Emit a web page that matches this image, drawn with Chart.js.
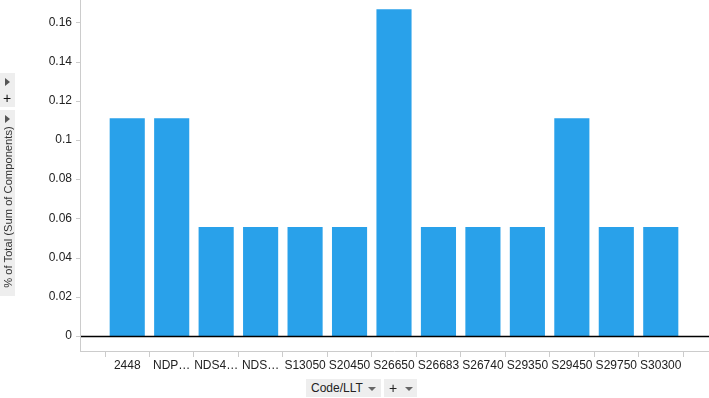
<!DOCTYPE html>
<html>
<head>
<meta charset="utf-8">
<script src="https://cdn.jsdelivr.net/npm/chart.js@4/dist/chart.umd.min.js"></script>
<style>
  html, body { margin: 0; padding: 0; background: #fff; }
  #wrap { position: relative; width: 709px; height: 398px; font-family: "Liberation Sans", Arial, sans-serif; }
  canvas { position: absolute; left: 0; top: 0; }
  .box { position: absolute; background: #eeeeee; color: #222; font-size: 12px; }
  .arrowR { position: absolute; left: 5px; width: 0; height: 0; border-top: 4px solid transparent; border-bottom: 4px solid transparent; border-left: 5px solid #555; }
  .arrowD { display: inline-block; width: 0; height: 0; border-left: 4px solid transparent; border-right: 4px solid transparent; border-top: 4px solid #666; vertical-align: middle; }
  .plus { position: absolute; font-size: 14px; line-height: 14px; color: #111; }
  #ytitle { position: absolute; left: 8px; top: 207px; transform: translate(-50%, -50%) rotate(-90deg); white-space: nowrap; font-size: 11.2px; color: #333; }
</style>
</head>
<body>
<div id="wrap">
  <canvas id="c" width="709" height="398"></canvas>
  <div class="box" style="left:0;top:73px;width:15px;height:34px;">
    <div class="arrowR" style="top:5px;"></div>
    <div class="plus" style="left:3px;top:18px;">+</div>
  </div>
  <div class="box" style="left:0;top:110px;width:15px;height:186px;">
    <div class="arrowR" style="top:5px;"></div>
  </div>
  <div id="ytitle">% of Total (Sum of Components)</div>
  <div class="box" style="left:306px;top:379px;width:75px;height:18px;line-height:18px;">
    <span style="position:absolute;left:5px;top:0;">Code/LLT</span>
    <span style="position:absolute;left:62px;top:0;"><span class="arrowD"></span></span>
  </div>
  <div class="box" style="left:384px;top:379px;width:33px;height:18px;line-height:18px;">
    <span style="position:absolute;left:5px;top:0;font-size:14px;">+</span>
    <span style="position:absolute;left:21px;top:0;"><span class="arrowD"></span></span>
  </div>
</div>
<script>
const categories = ["2448", "NDP…", "NDS4…", "NDS…", "S13050", "S20450", "S26650", "S26683", "S26740", "S29350", "S29450", "S29750", "S30300"];
const percentOfTotal = [0.1111, 0.1111, 0.0556, 0.0556, 0.0556, 0.0556, 0.1667, 0.0556, 0.0556, 0.0556, 0.1111, 0.0556, 0.0556];
const yTickValues = [0, 0.02, 0.04, 0.06, 0.08, 0.1, 0.12, 0.14, 0.16];
const yTickLabels = ["0", "0.02", "0.04", "0.06", "0.08", "0.1", "0.12", "0.14", "0.16"];
const yMin = -0.00765;
const yMax = 0.1714;

const axisPlugin = {
  id: 'axisPlugin',
  afterDraw(chart) {
    const ctx = chart.ctx;
    const y = chart.scales.y;
    const area = chart.chartArea;
    const axisX = 80.5;
    ctx.save();
    ctx.strokeStyle = '#cccccc';
    ctx.lineWidth = 1;
    ctx.beginPath();
    ctx.moveTo(axisX, 0);
    ctx.lineTo(axisX, Math.round(area.bottom) + 0.5);
    ctx.moveTo(axisX - 0.5, Math.round(area.bottom) + 0.5);
    ctx.lineTo(709, Math.round(area.bottom) + 0.5);
    yTickValues.forEach(v => {
      const py = Math.round(y.getPixelForValue(v)) + 0.5;
      ctx.moveTo(76, py);
      ctx.lineTo(axisX, py);
    });
    ctx.stroke();
    const zy = Math.round(y.getPixelForValue(0)) + 0.5;
    ctx.strokeStyle = '#000000';
    ctx.lineWidth = 1.3;
    ctx.beginPath();
    ctx.moveTo(axisX + 0.5, zy);
    ctx.lineTo(709, zy);
    ctx.stroke();
    ctx.restore();
  }
};

new Chart(document.getElementById('c'), {
  type: 'bar',
  data: {
    labels: categories,
    datasets: [{
      data: percentOfTotal,
      backgroundColor: '#29a1ea',
      borderWidth: 0,
      barPercentage: 0.79,
      categoryPercentage: 1.0
    }]
  },
  options: {
    responsive: false,
    animation: false,
    events: [],
    layout: { padding: { left: 0, right: 26, top: 0, bottom: 0 } },
    plugins: { legend: { display: false }, tooltip: { enabled: false } },
    scales: {
      x: {
        offset: true,
        afterFit(scale) { scale.height = 47; },
        grid: { display: true, drawOnChartArea: false, drawTicks: true, tickLength: 6, color: '#cccccc', offset: true },
        border: { display: false },
        ticks: { color: '#222', font: { family: '"Liberation Sans", Arial, sans-serif', size: 12 }, padding: 1, maxRotation: 0, autoSkip: false }
      },
      y: {
        min: yMin,
        max: yMax,
        bounds: 'data',
        grace: 0,
        afterFit(scale) { scale.width = 105; scale.paddingTop = 0; scale.paddingBottom = 0; },
        afterBuildTicks(scale) {
          scale.ticks = yTickValues.map(v => ({ value: v }));
          scale.min = yMin;
          scale.max = yMax;
        },
        grid: { display: false, drawTicks: true, tickLength: 33 },
        border: { display: false },
        ticks: {
          color: '#222',
          padding: 0,
          font: { family: '"Liberation Sans", Arial, sans-serif', size: 12 },
          callback: (v) => { const i = yTickValues.indexOf(v); return i >= 0 ? yTickLabels[i] : ''; }
        }
      }
    }
  },
  plugins: [axisPlugin]
});
</script>
</body>
</html>
